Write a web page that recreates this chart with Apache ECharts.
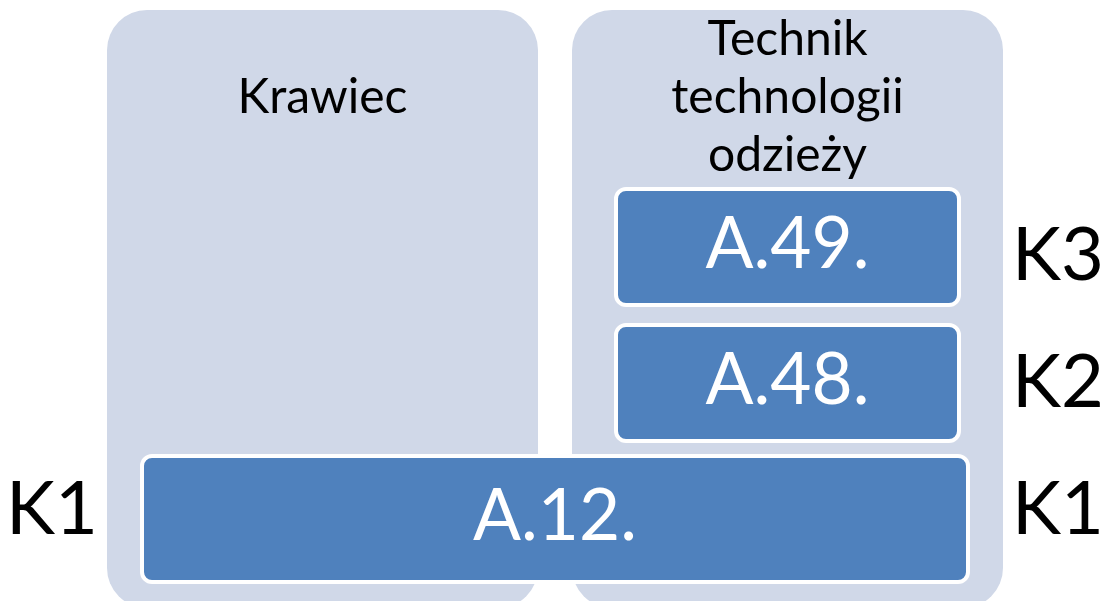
<!DOCTYPE html>
<html lang="pl" style="height: 100%">
<head>
    <meta charset="utf-8">
    <title>Kwalifikacje w zawodach</title>
    <script src="https://cdn.jsdelivr.net/npm/echarts@6/dist/echarts.min.js"></script>
    <style>
        body { margin: 0; background: #ffffff; }
        #main { width: 1110px; height: 601px; }
    </style>
</head>
<body>
    <div id="main"></div>

    <script>
        // zawody (kolumny)
        var professions = ['Krawiec', 'Technik\ntechnologii\nodzieży'];
        // kwalifikacje: od kolumny, do kolumny, poziom
        var qualifications = ['A.12.', 'A.48.', 'A.49.'];
        var qualFromCol = [0, 1, 1];
        var qualToCol = [1, 1, 1];
        var qualLevel = [0, 1, 2];
        // oznaczenia poziomów po lewej i prawej stronie
        var leftLevels = ['K1'];
        var rightLevels = ['K1', 'K2', 'K3'];

        var FONT = 'Lato';
        var BG = '#D0D8E8';
        var BOX = '#4F81BD';
        var HALF_W = 215.5; // połowa szerokości kolumny

        var chart = echarts.init(document.getElementById('main'));

        var colData = professions.map(function (p, i) { return [i]; });
        var qualData = qualifications.map(function (q, i) {
            return [qualFromCol[i], qualToCol[i], qualLevel[i]];
        });
        var labelData = [];
        var labelTexts = [];
        leftLevels.forEach(function (t, i) { labelData.push([0, i, -1]); labelTexts.push(t); });
        rightLevels.forEach(function (t, i) { labelData.push([1, i, 1]); labelTexts.push(t); });

        var option = {
            animation: false,
            grid: { left: 90, width: 930, top: 43, height: 544 },
            xAxis: { type: 'value', min: -0.5, max: 1.5, show: false },
            yAxis: { type: 'value', min: -0.5, max: 3.5, show: false },
            series: [
                {
                    // tło kolumn z nazwą zawodu
                    type: 'custom',
                    data: colData,
                    renderItem: function (params, api) {
                        var cx = api.coord([api.value(0), 0])[0];
                        var top = params.coordSys.y - 33;
                        return {
                            type: 'group',
                            children: [{
                                type: 'rect',
                                shape: { x: cx - HALF_W, y: top, width: HALF_W * 2, height: 598, r: 40 },
                                style: { fill: BG }
                            }, {
                                type: 'text',
                                x: cx, y: params.coordSys.y + 55,
                                style: {
                                    text: professions[params.dataIndex],
                                    fill: '#000',
                                    font: '48px ' + FONT,
                                    lineHeight: 58,
                                    align: 'center',
                                    verticalAlign: 'middle'
                                }
                            }]
                        };
                    }
                },
                {
                    // kwalifikacje
                    type: 'custom',
                    data: qualData,
                    renderItem: function (params, api) {
                        var lvl = api.value(2);
                        var inset = lvl === 0 ? 33 : 42;
                        var h = lvl === 0 ? 130 : 120;
                        var x0 = api.coord([api.value(0), 0])[0] - HALF_W + inset;
                        var x1 = api.coord([api.value(1), 0])[0] + HALF_W - inset;
                        var cy = api.coord([0, lvl])[1];
                        return {
                            type: 'group',
                            children: [{
                                type: 'rect',
                                shape: { x: x0 + 2, y: cy - h / 2 + 2, width: x1 - x0 - 4, height: h - 4, r: 10 },
                                style: { fill: BOX, stroke: '#fff', lineWidth: 4 }
                            }, {
                                type: 'text',
                                x: (x0 + x1) / 2, y: cy - 2,
                                style: {
                                    text: qualifications[params.dataIndex],
                                    fill: '#fff',
                                    font: '71px ' + FONT,
                                    align: 'center',
                                    verticalAlign: 'middle'
                                }
                            }]
                        };
                    }
                },
                {
                    // oznaczenia poziomów K
                    type: 'custom',
                    data: labelData,
                    renderItem: function (params, api) {
                        var side = api.value(2);
                        var lvl = api.value(1);
                        var cx = api.coord([api.value(0), 0])[0] + side * (HALF_W + 55);
                        var cy = api.coord([0, lvl])[1] + (lvl - 1) * 9;
                        return {
                            type: 'text',
                            x: cx, y: cy,
                            style: {
                                text: labelTexts[params.dataIndex],
                                fill: '#000',
                                font: '74px ' + FONT,
                                align: 'center',
                                verticalAlign: 'middle'
                            }
                        };
                    }
                }
            ]
        };

        chart.setOption(option);
    </script>
</body>
</html>
